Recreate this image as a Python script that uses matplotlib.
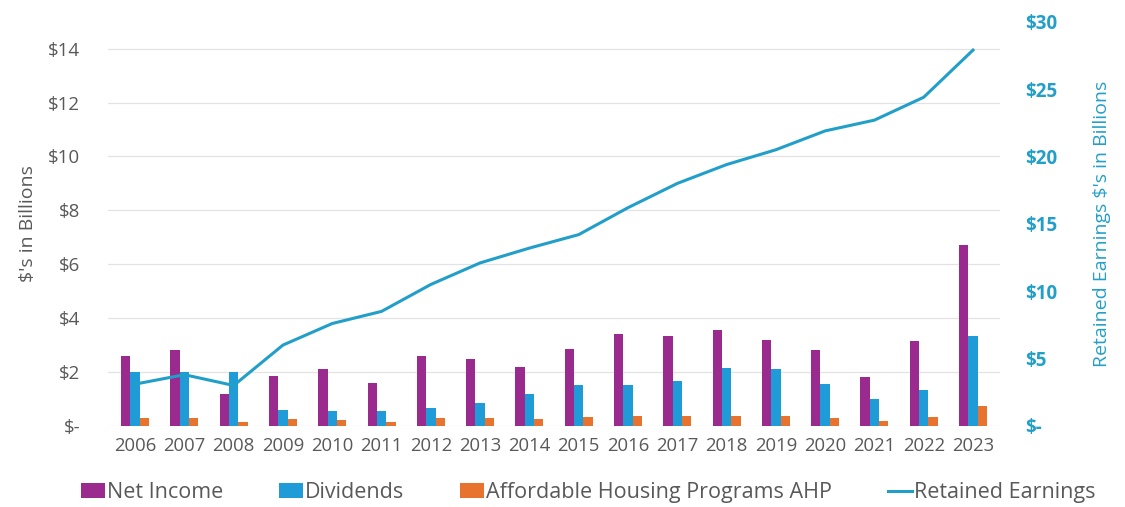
import numpy as np
import matplotlib
matplotlib.use("Agg")
import matplotlib.pyplot as plt

plt.rcParams['font.family'] = ['Open Sans', 'DejaVu Sans']

years = [str(y) for y in range(2006, 2024)]
net_income = [2.6, 2.8, 1.2, 1.85, 2.1, 1.6, 2.6, 2.5, 2.2, 2.85, 3.4, 3.35, 3.55, 3.2, 2.8, 1.8, 3.15, 6.7]
dividends = [2.0, 2.0, 2.0, 0.6, 0.55, 0.55, 0.65, 0.85, 1.2, 1.5, 1.5, 1.65, 2.15, 2.1, 1.55, 1.0, 1.35, 3.35]
ahp = [0.28, 0.3, 0.15, 0.25, 0.2, 0.15, 0.28, 0.28, 0.25, 0.32, 0.38, 0.35, 0.38, 0.35, 0.3, 0.18, 0.32, 0.75]
retained = [3.1, 3.8, 3.0, 6.0, 7.6, 8.5, 10.5, 12.1, 13.2, 14.2, 16.2, 18.0, 19.4, 20.5, 21.9, 22.7, 24.4, 27.9]

left_ticks = [0, 2, 4, 6, 8, 10, 12, 14]
right_ticks = [0, 5, 10, 15, 20, 25, 30]

purple = "#9A2A8E"
blue = "#1F9BD7"
orange = "#E8732F"
line_c = "#229FC9"
gray = "#595959"

fig = plt.figure(figsize=(11.25, 5.07), dpi=100)
ax = fig.add_axes([0.096, 0.16, 0.793, 0.797])
ax2 = ax.twinx()

x = np.arange(len(years))
w = 0.19
b1 = ax.bar(x - w, net_income, w, color=purple, label="Net Income", zorder=3)
b2 = ax.bar(x, dividends, w, color=blue, label="Dividends", zorder=3)
b3 = ax.bar(x + w, ahp, w, color=orange, label="Affordable Housing Programs AHP", zorder=3)
l1, = ax2.plot(x, retained, color=line_c, lw=2.2, label="Retained Earnings")

ax.set_xlim(-0.55, len(years) - 0.45)
ax.set_ylim(0, 15)
ax2.set_ylim(0, 30)
ax.set_yticks(left_ticks)
ax.set_yticklabels(["$-" if t == 0 else f"${t}" for t in left_ticks])
ax2.set_yticks(right_ticks)
ax2.set_yticklabels(["$-" if t == 0 else f"${t}" for t in right_ticks], fontweight="bold")
ax.set_xticks(x)
ax.set_xticklabels(years)

ax.grid(axis="y", color="#E3E3E3", lw=0.9, zorder=0)
for a in (ax, ax2):
    for s in a.spines.values():
        s.set_visible(False)
ax.tick_params(axis="y", length=0, colors=gray, labelsize=13.5, pad=20)
ax.tick_params(axis="x", length=0, colors=gray, labelsize=13.3, pad=8)
ax2.tick_params(axis="y", length=0, colors=line_c, labelsize=13.5, pad=18)

ax.set_ylabel("$'s in Billions", color=gray, fontsize=14, labelpad=8)
ax2.set_ylabel("Retained Earnings $'s in Billions", color=line_c, fontsize=14, labelpad=26)

fig.legend(handles=[b1, b2, b3, l1], loc="center", bbox_to_anchor=(0.523, 0.028),
           ncol=4, frameon=False, fontsize=15.5, labelcolor=gray,
           handlelength=1.1, handletextpad=0.1, columnspacing=2.6)

fig.savefig("out.png", dpi=100)
